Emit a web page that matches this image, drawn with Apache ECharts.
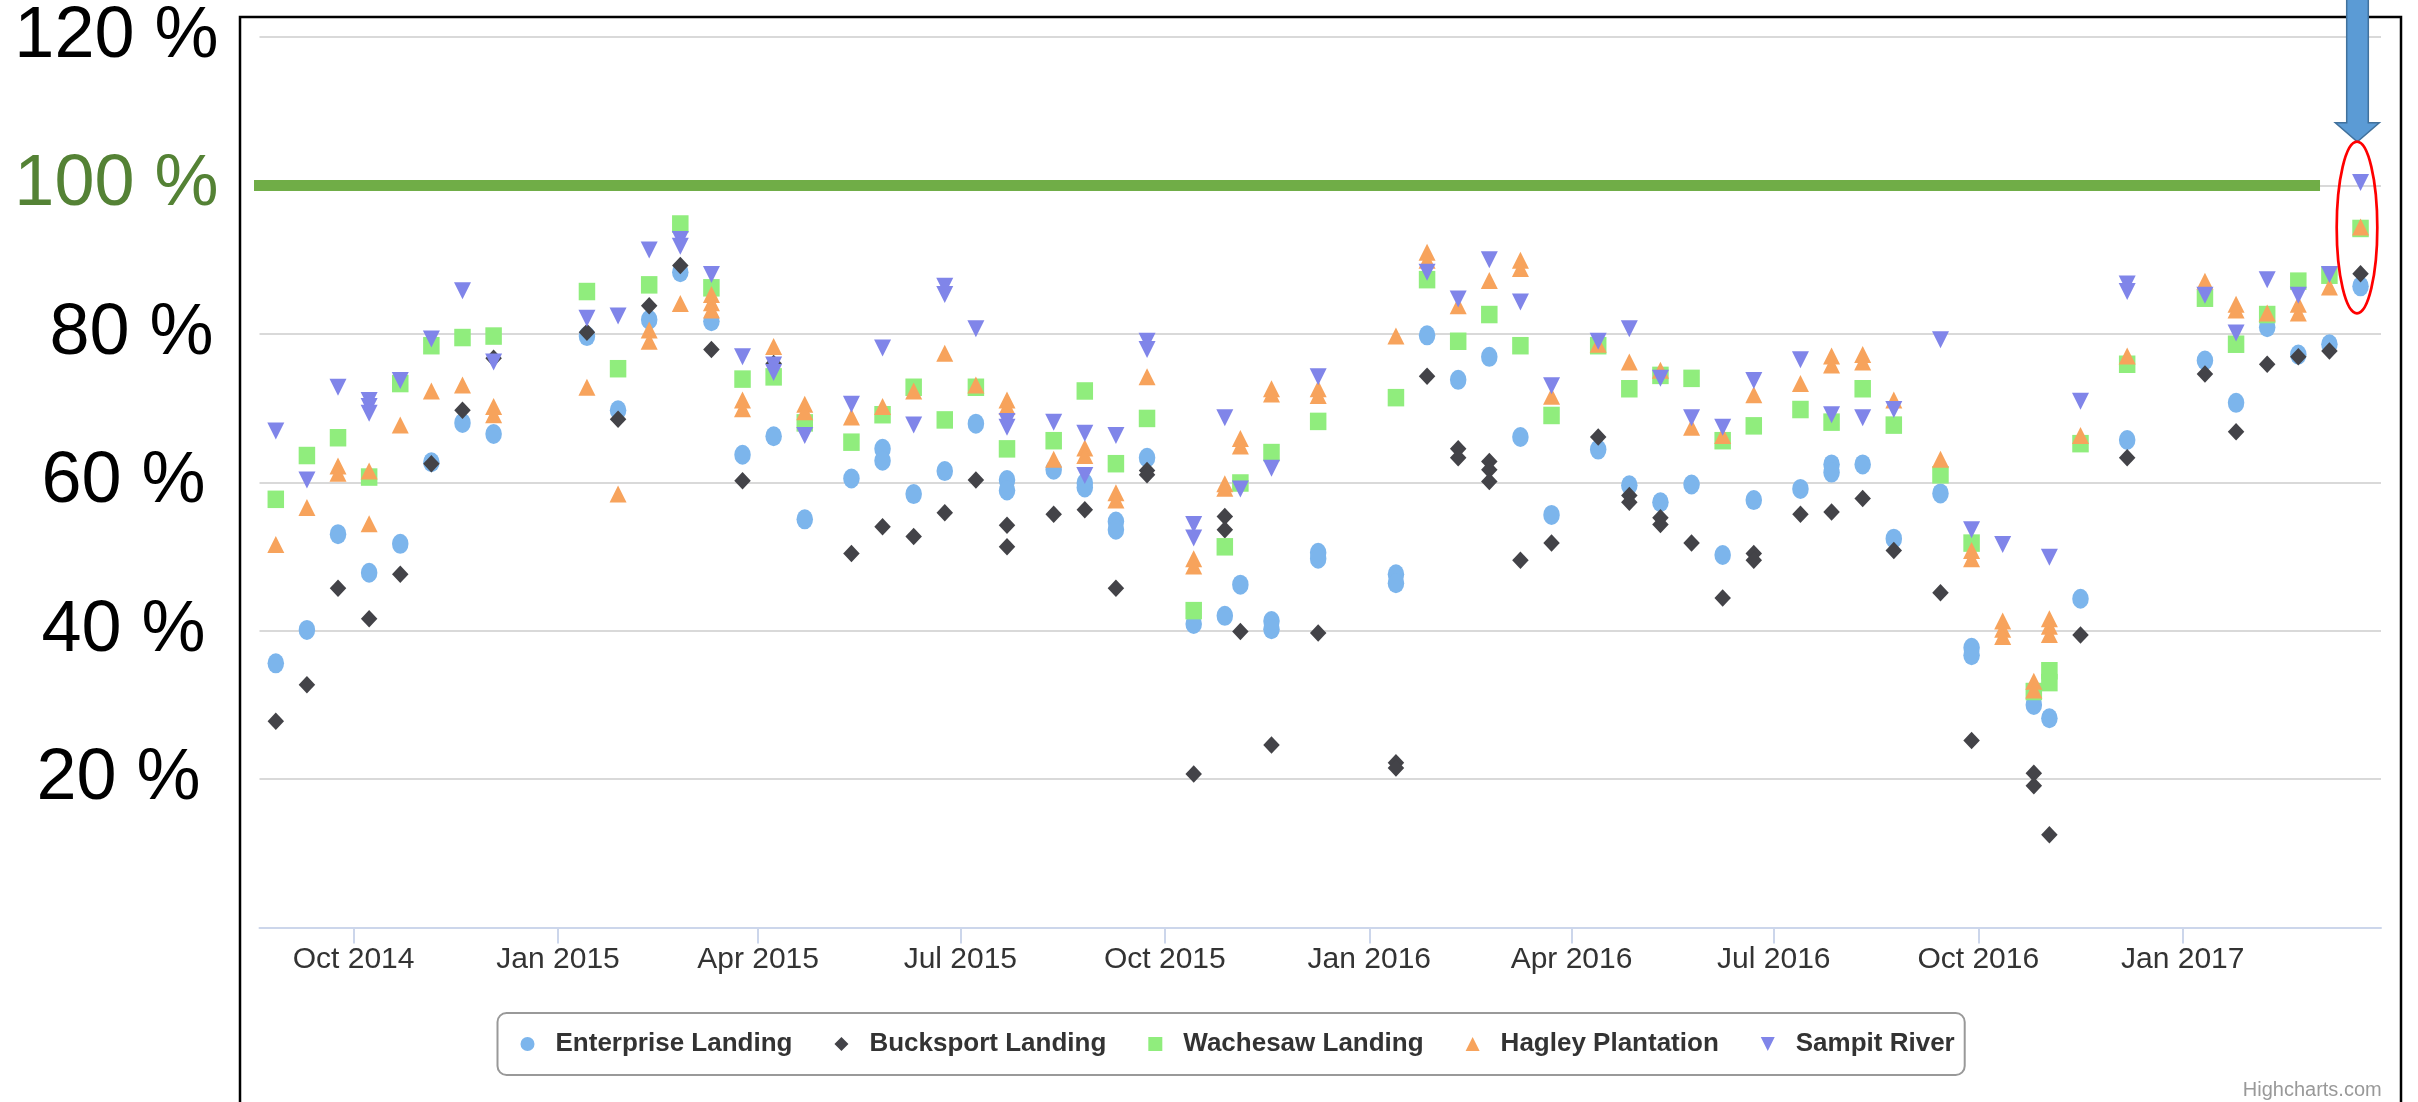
<!DOCTYPE html>
<html><head><meta charset="utf-8">
<script src="https://cdn.jsdelivr.net/npm/echarts@6/dist/echarts.min.js"></script>
<style>html,body{margin:0;padding:0;background:#fff}#c{width:2418px;height:1102px}</style>
</head><body><div id="c"></div>
<script>
// Sampling dates (one column of markers per date)
const dates = ['2014-08-27','2014-09-10','2014-09-24','2014-10-08','2014-10-22','2014-11-05','2014-11-19','2014-12-03',
  '2015-01-14','2015-01-28','2015-02-11','2015-02-25','2015-03-11','2015-03-25','2015-04-08','2015-04-22',
  '2015-05-13','2015-05-27','2015-06-10','2015-06-24','2015-07-08','2015-07-22','2015-08-12','2015-08-26',
  '2015-09-09','2015-09-23','2015-10-14','2015-10-28','2015-11-04','2015-11-18','2015-12-09','2016-01-13',
  '2016-01-27','2016-02-10','2016-02-24','2016-03-09','2016-03-23','2016-04-13','2016-04-27','2016-05-11',
  '2016-05-25','2016-06-08','2016-06-22','2016-07-13','2016-07-27','2016-08-10','2016-08-24','2016-09-14',
  '2016-09-28','2016-10-12','2016-10-26','2016-11-02','2016-11-16','2016-12-07','2017-01-11','2017-01-25',
  '2017-02-08','2017-02-22','2017-03-08','2017-03-22'];

// Values in %, aligned with dates; an inner list holds several samples of the same date, null = no sample
const enterprise = [35.6,40.1,53.0,47.8,51.7,62.7,68.0,66.5,79.7,69.7,81.9,88.3,81.7,63.7,66.2,55.0,
  60.5,[64.5,62.9],58.4,61.5,67.9,[60.3,58.9],61.7,[59.9,59.3],[54.7,53.6],63.3,40.9,42.0,46.2,[41.3,40.2],[50.5,49.7],[47.6,46.4],
  79.8,73.8,76.9,66.1,55.6,64.4,59.6,57.3,59.7,50.2,57.6,59.1,[62.4,61.3],62.4,52.4,58.5,
  [37.7,36.7],null,30.0,28.2,44.3,65.7,76.4,70.7,80.9,77.2,78.6,86.4];
const bucksport = [27.8,32.7,45.7,41.6,47.6,62.5,69.7,76.7,80.2,68.5,83.8,89.2,77.9,60.2,76.0,null,
  50.4,54.0,52.7,55.9,60.3,[54.2,51.3],55.7,56.3,45.7,[61.6,61.0],20.7,[55.4,53.6],39.9,24.6,39.7,[22.2,21.5],
  74.3,[64.5,63.3],[62.8,61.7,60.1],49.5,51.8,66.1,[58.2,57.3],[55.2,54.3],51.8,44.4,[50.4,49.5],55.7,56.0,57.8,50.8,45.1,
  25.2,null,[20.8,19.1],12.5,39.4,63.3,74.6,66.8,75.9,76.9,77.7,88.1];
const wachesaw = [57.7,63.6,66.0,60.7,73.3,78.4,79.5,79.7,85.7,75.3,86.6,94.8,86.2,73.9,74.2,68.0,
  65.4,69.1,72.8,68.4,72.8,64.5,65.6,72.3,62.5,68.6,42.7,51.3,59.9,64.0,68.2,71.4,
  87.3,79.0,82.6,78.4,69.0,78.4,72.6,74.4,74.0,65.6,67.6,69.8,68.1,72.6,67.7,61.0,
  51.8,null,31.8,[34.6,33.0],65.2,75.9,84.8,78.6,82.6,87.1,87.9,94.2];
const hagley = [51.6,56.6,[62.2,61.2],[61.5,54.4],67.7,72.3,73.1,[70.2,69.1],72.8,58.4,[80.5,79.0],84.1,[85.3,84.2,83.2],[71.1,69.9],78.3,[70.5,69.5],
  68.8,70.2,72.3,77.4,73.1,[71.1,70.2],63.1,[64.6,63.6],[58.6,57.6],74.2,[49.7,48.7],[59.8,59.2],[65.9,64.9],[72.6,71.9],[72.6,71.7],79.7,
  [91.0,89.9],83.8,87.2,[89.9,88.8],71.6,78.6,76.2,75.1,67.4,66.3,71.8,73.3,[77.0,75.8],[77.2,76.2],71.1,63.1,
  [50.8,49.7],[41.3,40.2,39.2],[33.2,32.0],[41.6,40.6,39.5],66.3,77.0,87.1,[84.0,83.2],82.8,[84.0,82.8],86.3,94.4];
const sampit = [66.9,60.3,72.8,[71.0,70.2,69.3],73.7,79.3,85.8,76.2,82.1,82.4,91.3,[92.7,91.8],88.0,76.9,[75.8,74.8],66.3,
  70.5,78.1,67.7,[86.4,85.3],80.7,[68.2,67.4],68.1,[66.6,60.9],66.3,[79.0,77.9],[54.3,52.5],68.7,59.1,61.9,74.2,null,
  88.3,84.7,90.0,84.3,73.0,79.0,80.7,74.0,68.7,67.4,73.7,76.5,69.1,68.7,69.8,79.2,
  53.6,51.6,null,49.9,70.9,[86.7,85.7],85.2,80.1,87.3,85.2,88.0,100.4];

const seriesNames = ['Enterprise Landing','Bucksport Landing','Wachesaw Landing','Hagley Plantation','Sampit River'];
const seriesValues = [enterprise, bucksport, wachesaw, hagley, sampit];
const seriesColors = ['#7cb5ec','#434348','#90ed7d','#f7a35c','#8085e9'];
const seriesSymbols = ['circle','diamond','rect','triangle','triangle'];
const seriesRotate = [0,0,0,0,180];
const seriesSizes = [[16.5,20],[16.5,17.5],[16.5,17.5],[17,17],[17,17]];
const legendIcons = ['circle','diamond','rect','triangle','path://M0,0 L10,0 L5,10 Z'];

// Target line (100 %) drawn as an annotation across the chart
const targetDates = ['2014-08-13 14:00','2017-03-03 18:30'];
const targetValue = 100;

const yTicks = [0,20,40,60,80,100,120];
const yLabels = {20:'20 %', 40:'40 %', 60:'60 %', 80:'80 %', 100:'100 %', 120:'120 %'};
const monthNames = ['Jan','Feb','Mar','Apr','May','Jun','Jul','Aug','Sep','Oct','Nov','Dec'];

function toPoints(vals){
  const out = [];
  vals.forEach((v,i)=>{
    if (v == null) return;
    (Array.isArray(v) ? v : [v]).forEach(x => out.push([dates[i], x]));
  });
  return out;
}

const FONT = '"Liberation Sans", Arial, sans-serif';
const DAY = 86400000;

const series = seriesNames.map((n,k)=>({
  name: n, type: 'scatter',
  data: toPoints(seriesValues[k]),
  symbol: seriesSymbols[k], symbolRotate: seriesRotate[k], symbolSize: seriesSizes[k],
  itemStyle: {color: seriesColors[k], opacity: 1},
  emphasis: {disabled: true}, z: 3 + k
}));
series.unshift({
  name: 'target', type: 'line', clip: false, silent: true, symbol: 'none', z: 10,
  data: targetDates.map(d => [d, targetValue]),
  lineStyle: {color: '#70AD47', width: 11}
});

const lblBase = {fontSize: 72, fontFamily: FONT, color: '#000'};
const chart = echarts.init(document.getElementById('c'), null, {renderer: 'canvas'});
chart.setOption({
  animation: false,
  backgroundColor: '#fff',
  grid: {left: 259.5, right: 37, top: 37, bottom: 174.5},
  xAxis: {
    type: 'time',
    min: '2014-08-19 16:00', max: '2017-03-31 05:00',
    minInterval: 93 * DAY, maxInterval: 93 * DAY,
    axisLine: {lineStyle: {color: '#ccd6eb', width: 2}},
    axisTick: {show: true, length: 16, lineStyle: {color: '#ccd6eb', width: 2}},
    splitLine: {show: false},
    axisLabel: {
      margin: 17, fontSize: 30, color: '#333', fontFamily: FONT,
      formatter: function (val) {
        const d = new Date(val);
        if (d.getDate() !== 1 || d.getMonth() % 3 !== 0) return '';
        return monthNames[d.getMonth()] + ' ' + d.getFullYear();
      }
    }
  },
  yAxis: {
    type: 'value', min: yTicks[0], max: yTicks[yTicks.length-1], interval: 20,
    axisLine: {show: false}, axisTick: {show: false},
    splitLine: {lineStyle: {color: '#d9d9d9', width: 2}},
    axisLabel: {
      margin: 41, fontSize: 72, color: '#000', fontFamily: FONT,
      formatter: v => yLabels[v] ? '{l' + v + '|' + yLabels[v] + '}' : '',
      rich: {
        l120: Object.assign({}, lblBase, {padding: [0, 0, 0, 0]}),
        l100: Object.assign({}, lblBase, {color: '#548235', padding: [0, 0, 0, 0]}),
        l80: Object.assign({}, lblBase, {padding: [0, 5, 0, 0]}),
        l60: Object.assign({}, lblBase, {padding: [0, 13, 0, 0]}),
        l40: Object.assign({}, lblBase, {padding: [0, 13, 0, 0]}),
        l20: Object.assign({}, lblBase, {padding: [0, 18, 0, 0]})
      }
    }
  },
  legend: {
    data: seriesNames.map((n,k) => ({name: n, icon: legendIcons[k]})),
    left: 497.5, top: 1013, orient: 'horizontal',
    padding: [18, 10, 18, 23],
    itemGap: 42, itemWidth: 14, itemHeight: 14,
    borderColor: '#999', borderWidth: 2, borderRadius: 9,
    textStyle: {fontSize: 26, fontWeight: 'bold', color: '#333', fontFamily: FONT, padding: [0, 0, 0, 16]},
    selectedMode: false
  },
  graphic: [
    {type: 'rect', z: 100, silent: true, shape: {x: 240, y: 17, width: 2161, height: 1110},
      style: {fill: 'none', stroke: '#000', lineWidth: 2.5}},
    {type: 'polygon', z: 100, silent: true,
      shape: {points: [[2346.7,-5],[2368.3,-5],[2368.3,122.7],[2379.3,122.7],[2357.3,141.7],[2335.3,122.7],[2346.7,122.7]]},
      style: {fill: '#5B9BD5', stroke: '#41719C', lineWidth: 1.5}},
    {type: 'ellipse', z: 100, silent: true, shape: {cx: 2357, cy: 227.5, rx: 20.3, ry: 85.8},
      style: {fill: 'none', stroke: '#FF0000', lineWidth: 2.7}},
    {type: 'text', z: 100, silent: true, x: 2381.7, y: 1090,
      style: {text: 'Highcharts.com', fill: '#999', font: '20px ' + FONT, align: 'right', verticalAlign: 'middle'}}
  ],
  series: series
});
</script>
</body></html>
